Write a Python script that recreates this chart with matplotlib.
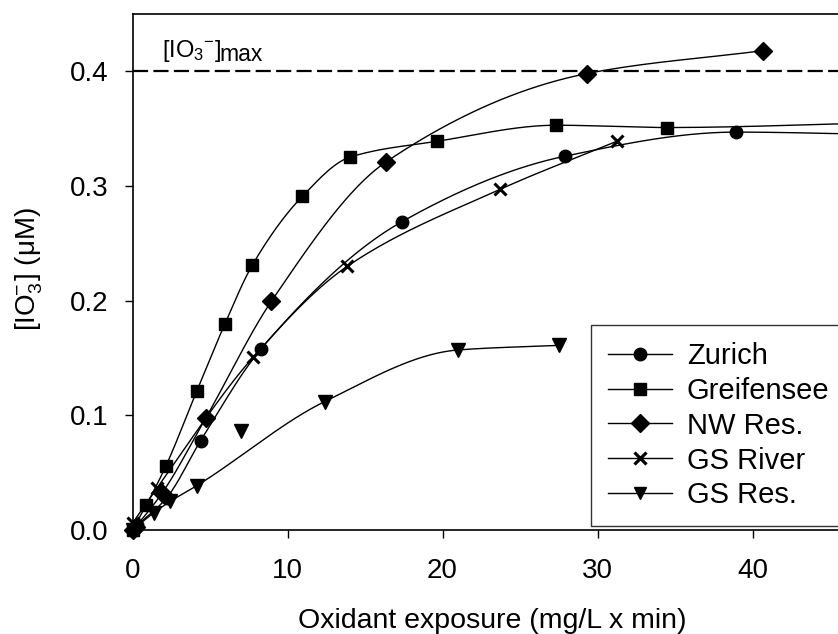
import numpy as np
import matplotlib
matplotlib.use("Agg")
import matplotlib.pyplot as plt
from matplotlib.lines import Line2D

plt.rcParams['font.family'] = ['Liberation Sans', 'DejaVu Sans']
plt.rcParams['mathtext.fontset'] = 'custom'
plt.rcParams['mathtext.rm'] = 'Liberation Sans'
plt.rcParams['mathtext.it'] = 'Liberation Sans:italic'
plt.rcParams['mathtext.bf'] = 'Liberation Sans:bold'

# ---- data ----
zurich_x = [0.0, 0.3, 2.2, 4.4, 8.3, 17.4, 27.9, 38.95, 48.0]
zurich_y = [0.0, 0.004, 0.028, 0.078, 0.158, 0.269, 0.326, 0.347, 0.345]

greif_x = [0.0, 0.9, 2.16, 4.14, 5.97, 7.73, 10.96, 14.0, 19.65, 27.35, 34.5, 48.0]
greif_y = [0.0, 0.022, 0.056, 0.121, 0.180, 0.231, 0.291, 0.325, 0.339, 0.353, 0.351, 0.355]

nw_x = [0.0, 0.2, 1.9, 4.74, 8.96, 16.36, 29.3, 40.65]
nw_y = [0.0, 0.003, 0.032, 0.098, 0.1995, 0.321, 0.398, 0.418]

gsr_x = [0.0, 1.6, 7.8, 13.86, 23.7, 31.24]
gsr_y = [0.006, 0.037, 0.151, 0.230, 0.297, 0.339]

gsres_x = [0.0, 1.37, 2.44, 4.14, 7.0, 12.4, 21.0, 27.5]
gsres_y = [0.0, 0.015, 0.025, 0.0386, 0.086, 0.112, 0.157, 0.161]
gsres_on_curve = [True, True, True, True, False, True, True, True]

labels = ["Zurich", "Greifensee", "NW Res.", "GS River", "GS Res."]
markers = ["o", "s", "D", "x", "v"]
iodate_max = 0.4
xticks = [0, 10, 20, 30, 40]
yticks = [0.0, 0.1, 0.2, 0.3, 0.4]


def smooth(x, y, n=400):
    """Monotone cubic Hermite (Fritsch-Carlson) curve through the points."""
    x = np.asarray(x, float)
    y = np.asarray(y, float)
    h = np.diff(x)
    d = np.diff(y) / h
    m = np.zeros_like(y)
    m[0], m[-1] = d[0], d[-1]
    for i in range(1, len(y) - 1):
        if d[i - 1] * d[i] <= 0:
            m[i] = 0.0
        else:
            w1 = 2 * h[i] + h[i - 1]
            w2 = h[i] + 2 * h[i - 1]
            m[i] = (w1 + w2) / (w1 / d[i - 1] + w2 / d[i])
    xs = np.linspace(x[0], x[-1], n)
    idx = np.clip(np.searchsorted(x, xs) - 1, 0, len(x) - 2)
    t = (xs - x[idx]) / h[idx]
    h00 = 2 * t**3 - 3 * t**2 + 1
    h10 = t**3 - 2 * t**2 + t
    h01 = -2 * t**3 + 3 * t**2
    h11 = t**3 - t**2
    ys = h00 * y[idx] + h10 * h[idx] * m[idx] + h01 * y[idx + 1] + h11 * h[idx] * m[idx + 1]
    return xs, ys


W, H = 838, 634
fig = plt.figure(figsize=(W / 100, H / 100), dpi=100)
x0_px, x50_px = 132.5, 907.5
y0_px, ytop_px = 530, 14
AW, AH = x50_px - x0_px, y0_px - ytop_px
ax = fig.add_axes([x0_px / W, 1 - y0_px / H, AW / W, AH / H])
ax.set_xlim(0, 50)
ax.set_ylim(0, 0.45)

series = [
    (zurich_x, zurich_y, None),
    (greif_x, greif_y, None),
    (nw_x, nw_y, None),
    (gsr_x, gsr_y, None),
    (gsres_x, gsres_y, gsres_on_curve),
]
msizes = [9, 9, 9.5, 9, 9.5]
for (xs, ys, mask), mk, ms in zip(series, markers, msizes):
    xa, ya = np.asarray(xs), np.asarray(ys)
    if mask is not None:
        mk_ = np.asarray(mask)
        cx, cy = smooth(xa[mk_], ya[mk_])
    else:
        cx, cy = smooth(xa, ya)
    ax.plot(cx, cy, color='black', lw=1.0, clip_on=False, zorder=2)
    if mk == 'x':
        ax.plot(xa, ya, ls='none', marker=mk, ms=ms, mew=2.2, color='black', clip_on=False, zorder=3)
    else:
        ax.plot(xa, ya, ls='none', marker=mk, ms=ms, color='black', mec='black', clip_on=False, zorder=3)

ax.axhline(iodate_max, color='black', lw=1.6, dashes=(6.8, 2.4), zorder=1)

# [IO3-]max annotation
fig.text(162 / W, 1 - 57 / H, r'$[\mathrm{IO}_3{}^{-}]$', fontsize=17, ha='left', va='baseline')
fig.text(219 / W, 1 - 61 / H, 'max', fontsize=16.5, ha='left', va='baseline')

ax.set_xticks(xticks)
ax.set_xticklabels([str(v) for v in xticks])
ax.set_yticks(yticks)
ax.set_yticklabels([f"{v:.1f}" for v in yticks])
ax.tick_params(direction='out', length=6, width=1.0, labelsize=20, colors='black')
ax.tick_params(axis='y', pad=11.5)
ax.tick_params(axis='x', pad=14.5)
for s in ['left', 'bottom', 'top', 'right']:
    ax.spines[s].set_linewidth(1.2)

ax.set_xlabel('Oxidant exposure (mg/L x min)', fontsize=20.5)
ax.xaxis.label.set_va('baseline')
ax.xaxis.set_label_coords((492 - x0_px) / AW, (y0_px - 627.5) / AH)
ax.set_ylabel(r'$[\mathrm{IO}_3^{\!\!-}]$ ($\mathrm{\mu}$M)', fontsize=20)
ax.yaxis.label.set_va('center')
ax.yaxis.set_label_coords((29.5 - x0_px) / AW, (y0_px - 269) / AH)

handles = []
for lab, mk, ms in zip(labels, markers, msizes):
    if mk == 'x':
        handles.append(Line2D([], [], color='black', lw=1.0, marker=mk, ms=8.5, mew=2.3, label=lab))
    else:
        handles.append(Line2D([], [], color='black', lw=1.0, marker=mk, ms=9, label=lab))
leg = ax.legend(handles=handles, loc='upper left',
                bbox_to_anchor=((591 - x0_px) / AW, (y0_px - 325) / AH),
                borderaxespad=0, fontsize=21, frameon=True, fancybox=False,
                edgecolor='black', handlelength=2.2, labelspacing=0.236,
                handletextpad=0.5, borderpad=0.58)
leg.get_frame().set_linewidth(1.0)

fig.savefig('out.png', dpi=100)
